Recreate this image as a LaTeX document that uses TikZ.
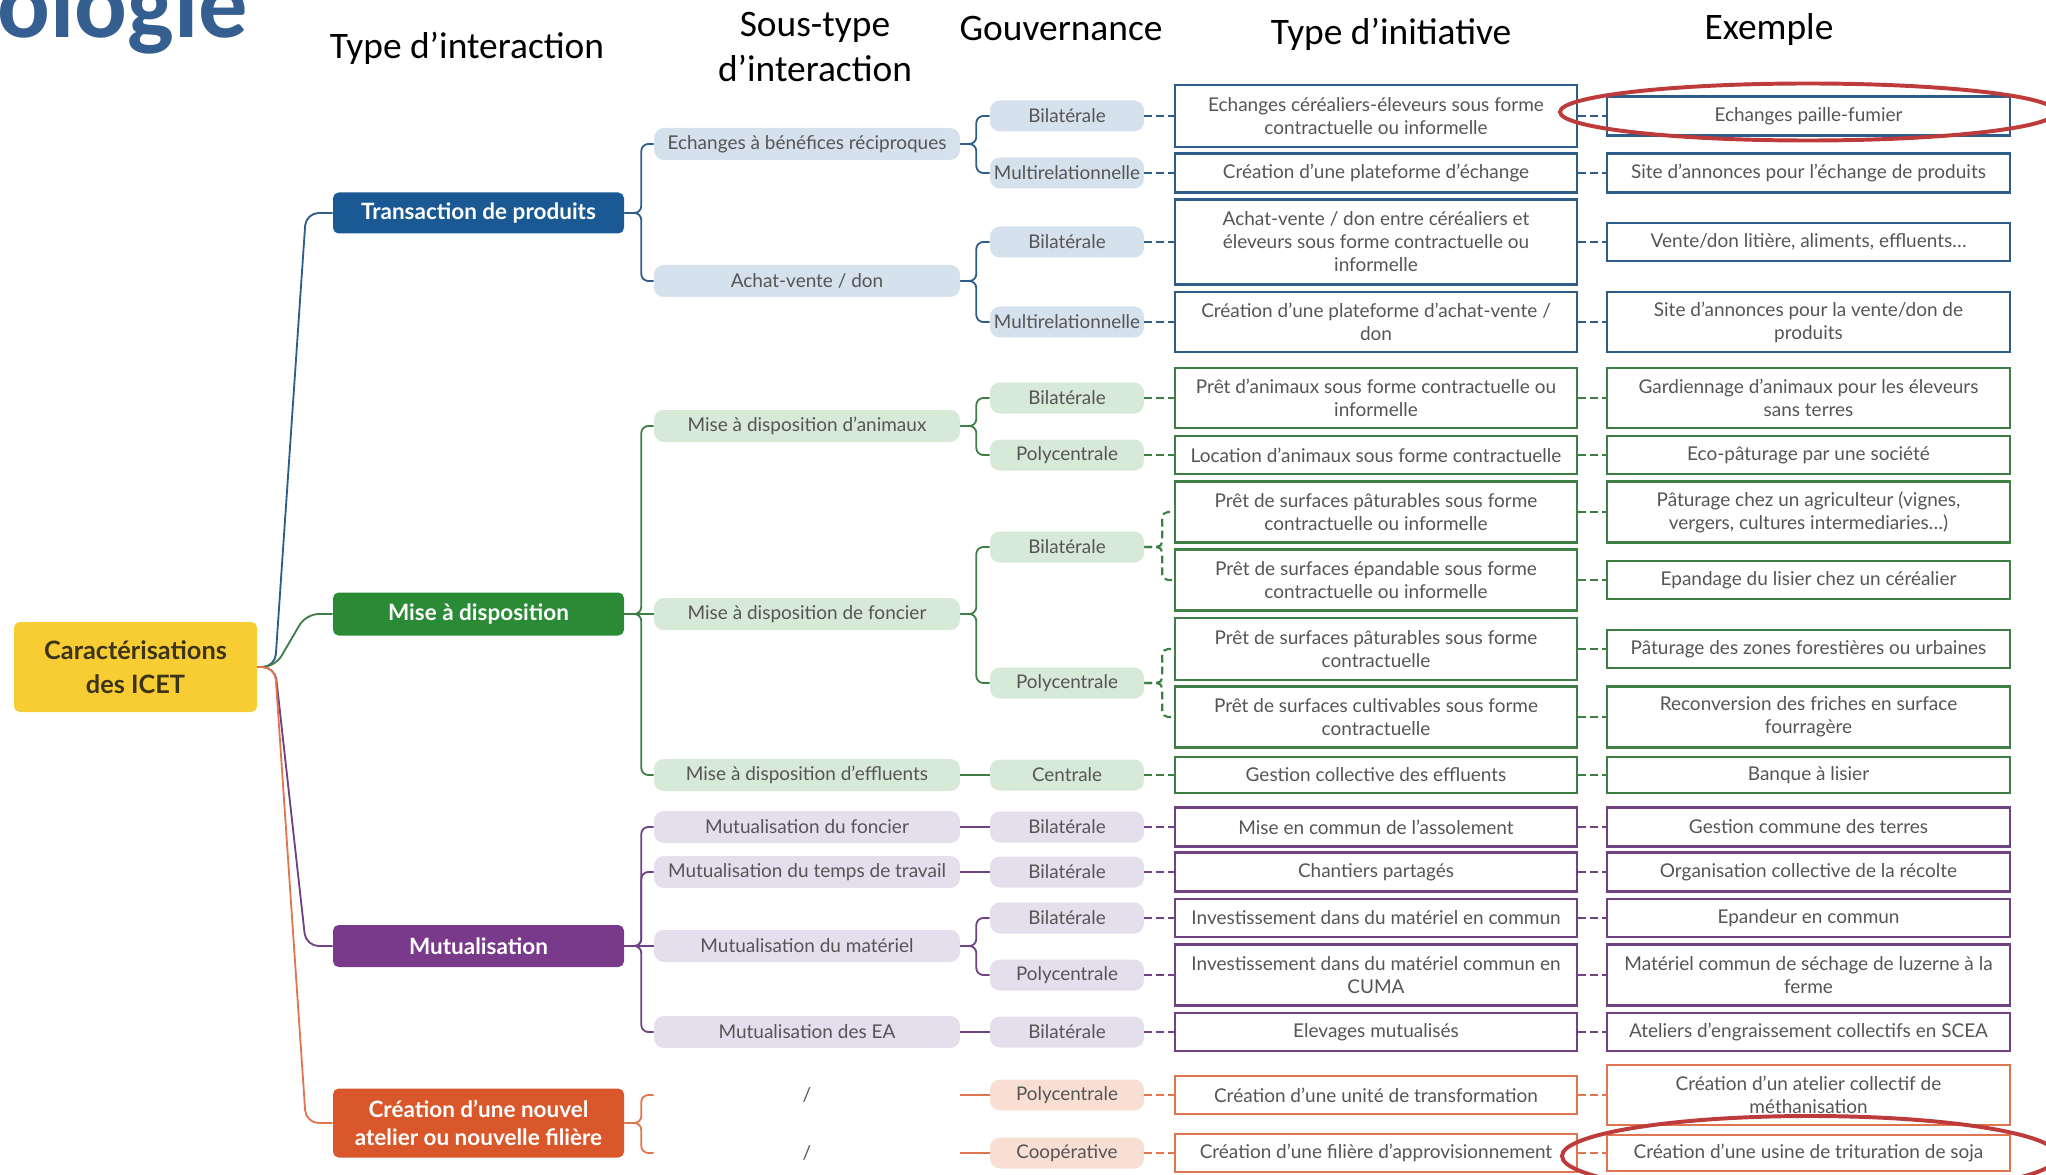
\documentclass[tikz,border=0pt]{standalone}
\usepackage{fontspec}
\setmainfont{Lato}
\newfontfamily\hdrfont{Carlito}
\usepackage{tikz}

\definecolor{titleblue}{HTML}{365F91}
\definecolor{rootyellow}{HTML}{F8CD33}
\definecolor{roottext}{HTML}{3B3418}
\definecolor{bluedark}{HTML}{1A5994}
\definecolor{blueline}{HTML}{2F5D8A}
\definecolor{bluelight}{HTML}{D5E1ED}
\definecolor{greendark}{HTML}{2A8A35}
\definecolor{greenline}{HTML}{3F7F46}
\definecolor{greenlight}{HTML}{D7E9D7}
\definecolor{purpledark}{HTML}{7A3A8B}
\definecolor{purpleline}{HTML}{6E4283}
\definecolor{purplelight}{HTML}{E5DEEC}
\definecolor{orangedark}{HTML}{D9572A}
\definecolor{orangeline}{HTML}{E07650}
\definecolor{orangelight}{HTML}{F9DED3}
\definecolor{txtgrey}{HTML}{555555}
\definecolor{circlered}{HTML}{BD3B3B}

\newcommand{\pxu}{0.025cm}

\begin{document}
\begin{tikzpicture}[x=0.025cm, y=-0.025cm]
	\useasboundingbox (0,0) rectangle (2046,1175);
	\clip (0,0) rectangle (2046,1175);
	\tikzstyle{head}=[font=\hdrfont\fontsize{26.6}{31.3}\selectfont, align=center, inner sep=0pt]
	\tikzstyle{cat}=[rounded corners=4pt, text=white, font=\bfseries\fontsize{16}{19.5}\selectfont, minimum width=291*\pxu, align=center, inner sep=0pt]
	\tikzstyle{sub}=[rounded corners=7pt, text=txtgrey, font=\fontsize{13.5}{16}\selectfont, minimum width=306*\pxu, minimum height=32*\pxu, inner sep=0pt]
	\tikzstyle{gov}=[rounded corners=7pt, text=txtgrey, font=\fontsize{13.4}{16}\selectfont, minimum width=154*\pxu, minimum height=31*\pxu, inner sep=0pt]
	\tikzstyle{ini}=[draw, line width=1.6pt, fill=white, text=txtgrey, font=\fontsize{13.5}{16.4}\selectfont, align=center, inner sep=0pt]
	\tikzstyle{link}=[line width=1.3pt, rounded corners=5pt]
	\tikzstyle{dlink}=[line width=1.5pt, dash pattern=on 5.5pt off 3pt, rounded corners=4pt]

	\node[anchor=base west, inner sep=0pt, text=titleblue, font=\hdrfont\bfseries\fontsize{70}{84}\selectfont] (title) at (-3,38) {ologie};
	\node[head] (hInter) at (467,48) {Type d’interaction};
	\node[head] (hSous) at (815,47) {Sous-type\\d’interaction};
	\node[head] (hGouv) at (1061,29) {Gouvernance};
	\node[head] (hInit) at (1391,34) {Type d’initiative};
	\node[head] (hEx) at (1769,30) {Exemple};

	\node[fill=rootyellow, rounded corners=4pt, minimum width=243*\pxu, minimum height=90*\pxu, align=center, text=roottext, font=\bfseries\fontsize{18}{24}\selectfont] (root) at (135.5,667) {Caractérisations\\des ICET};
	\foreach \n/\y/\h/\c/\txt in {1/213/41/bluedark/{Transaction de produits},
		2/614/43/greendark/{Mise à disposition},
		3/946/42/purpledark/{Mutualisation},
		4/1123/69/orangedark/{Création d'une nouvel\\atelier ou nouvelle filière}} {
		\node[cat, fill=\c, minimum height=\h*\pxu] (c\n) at (478.5,\y) {\txt};
	}
	\foreach \n/\y/\c in {1/213/blueline,2/614/greenline,3/946/purpleline,4/1123/orangeline} {
		\draw[link, color=\c, rounded corners=9pt] (root.east) -- (275,667) -- (306,\y) -- (c\n.west);
	}

	\foreach \n/\y/\c/\txt in {1/144/bluelight/{Echanges à bénéfices réciproques},
		2/281/bluelight/{Achat-vente / don},
		3/426/greenlight/{Mise à disposition d'animaux},
		4/614/greenlight/{Mise à disposition de foncier},
		5/775/greenlight/{Mise à disposition d'effluents},
		6/827/purplelight/{Mutualisation du foncier},
		7/872/purplelight/{Mutualisation du temps de travail},
		8/946/purplelight/{Mutualisation du matériel},
		9/1032/purplelight/{Mutualisation des EA},
		10/1095/white/{/},
		11/1153/white/{/}} {
		\node[sub, fill=\c] (s\n) at (807,\y) {\txt};
	}

	\foreach \n/\y/\c/\txt in {1/116/bluelight/Bilatérale, 2/173/bluelight/Multirelationnelle,
		3/242/bluelight/Bilatérale, 4/322/bluelight/Multirelationnelle,
		5/398/greenlight/Bilatérale, 6/455/greenlight/Polycentrale, 7/547/greenlight/Bilatérale,
		8/683/greenlight/Polycentrale, 9/775/greenlight/Centrale,
		10/827/purplelight/Bilatérale, 11/872/purplelight/Bilatérale, 12/918/purplelight/Bilatérale,
		13/975/purplelight/Polycentrale, 14/1032/purplelight/Bilatérale,
		15/1095/orangelight/Polycentrale, 16/1153/orangelight/Coopérative} {
		\node[gov, fill=\c] (g\n) at (1067,\y) {\txt};
	}

	\foreach \n/\y/\h/\c/\txt in {1/116/62/blueline/{Echanges céréaliers-éleveurs sous forme\\contractuelle ou informelle},
		2/173/39/blueline/{Création d'une plateforme d'échange},
		3/242/85/blueline/{Achat-vente / don entre céréaliers et\\éleveurs sous forme contractuelle ou\\informelle},
		4/322/60/blueline/{Création d'une plateforme d'achat-vente /\\don},
		5/398/60/greenline/{Prêt d'animaux sous forme contractuelle ou\\informelle},
		6/455/38/greenline/{Location d'animaux sous forme contractuelle},
		7/512/61/greenline/{Prêt de surfaces pâturables sous forme\\contractuelle ou informelle},
		8/580/61/greenline/{Prêt de surfaces épandable sous forme\\contractuelle ou informelle},
		9/649/62/greenline/{Prêt de surfaces pâturables sous forme\\contractuelle},
		10/717/61/greenline/{Prêt de surfaces cultivables sous forme\\contractuelle},
		11/775/36/greenline/{Gestion collective des effluents},
		12/827/39/purpleline/{Mise en commun de l'assolement},
		13/872/39/purpleline/{Chantiers partagés},
		14/918/38/purpleline/{Investissement dans du matériel en commun},
		15/975/61/purpleline/{Investissement dans du matériel commun en\\CUMA},
		16/1032/38/purpleline/{Elevages mutualisés},
		17/1095/38/orangeline/{Création d'une unité de transformation},
		18/1153/38/orangeline/{Création d'une filière d'approvisionnement}} {
		\node[ini, draw=\c, minimum width=402*\pxu, minimum height=\h*\pxu] (t\n) at (1376,\y) {\txt};
	}

	\foreach \n/\y/\h/\c/\txt in {1/116/39/blueline/{Echanges paille-fumier},
		2/173/39/blueline/{Site d'annonces pour l'échange de produits},
		3/242/38/blueline/{Vente/don litière, aliments, effluents…},
		4/322/60/blueline/{Site d'annonces pour la vente/don de\\produits},
		5/398/60/greenline/{Gardiennage d'animaux pour les éleveurs\\sans terres},
		6/455/38/greenline/{Eco-pâturage par une société},
		7/512/61/greenline/{Pâturage chez un agriculteur (vignes,\\vergers, cultures intermediaries…)},
		8/580/38/greenline/{Epandage du lisier chez un céréalier},
		9/649/38/greenline/{Pâturage des zones forestières ou urbaines},
		10/717/61/greenline/{Reconversion des friches en surface\\fourragère},
		11/775/36/greenline/{Banque à lisier},
		12/827/39/purpleline/{Gestion commune des terres},
		13/872/39/purpleline/{Organisation collective de la récolte},
		14/918/38/purpleline/{Epandeur en commun},
		15/975/61/purpleline/{Matériel commun de séchage de luzerne à la\\ferme},
		16/1032/38/purpleline/{Ateliers d'engraissement collectifs en SCEA},
		17/1095/60/orangeline/{Création d'un atelier collectif de\\méthanisation},
		18/1153/36/orangeline/{Création d'une usine de trituration de soja}} {
		\node[ini, draw=\c, minimum width=403*\pxu, minimum height=\h*\pxu] (e\n) at (1808.5,\y) {\txt};
	}

	\foreach \p/\s/\c in {1/1/blueline,1/2/blueline,2/3/greenline,2/5/greenline,
		3/6/purpleline,3/7/purpleline,3/9/purpleline,4/10/orangeline,4/11/orangeline} {
		\draw[link, color=\c] (c\p.east) -- ++(17,0) |- (s\s.west);
	}
	\foreach \p/\s/\c in {2/4/greenline,3/8/purpleline} {
		\draw[link, color=\c] (c\p.east) -- (s\s.west);
	}
	\foreach \s/\g/\c in {1/1/blueline,1/2/blueline,2/3/blueline,2/4/blueline,
		3/5/greenline,3/6/greenline,4/7/greenline,4/8/greenline,
		8/12/purpleline,8/13/purpleline} {
		\draw[link, color=\c] (s\s.east) -- ++(16,0) |- (g\g.west);
	}
	\foreach \s/\g/\c in {5/9/greenline,6/10/purpleline,7/11/purpleline,9/14/purpleline,
		10/15/orangeline,11/16/orangeline} {
		\draw[link, color=\c] (s\s.east) -- (g\g.west);
	}
	\foreach \g/\t/\c in {7/7/greenline,7/8/greenline,8/9/greenline,8/10/greenline} {
		\draw[dlink, color=\c] (g\g.east) -- ++(18,0) |- (t\t.west);
	}
	\foreach \g/\t/\c in {1/1/blueline,2/2/blueline,3/3/blueline,4/4/blueline,
		5/5/greenline,6/6/greenline,9/11/greenline,
		10/12/purpleline,11/13/purpleline,12/14/purpleline,13/15/purpleline,14/16/purpleline,
		15/17/orangeline,16/18/orangeline} {
		\draw[dlink, color=\c] (g\g.east) -- (t\t.west);
	}
	\foreach \i/\c in {1/blueline,2/blueline,3/blueline,4/blueline,5/greenline,6/greenline,7/greenline,
		8/greenline,9/greenline,10/greenline,11/greenline,12/purpleline,13/purpleline,14/purpleline,
		15/purpleline,16/purpleline,17/orangeline,18/orangeline} {
		\draw[dlink, color=\c] (t\i.east) -- (e\i.west);
	}

	\draw[circlered, line width=2.8pt] (1808,112) ellipse [x radius=248, y radius=28.5];
	\draw[circlered, line width=2.8pt] (1810,1156) ellipse [x radius=248, y radius=40];
\end{tikzpicture}
\end{document}
